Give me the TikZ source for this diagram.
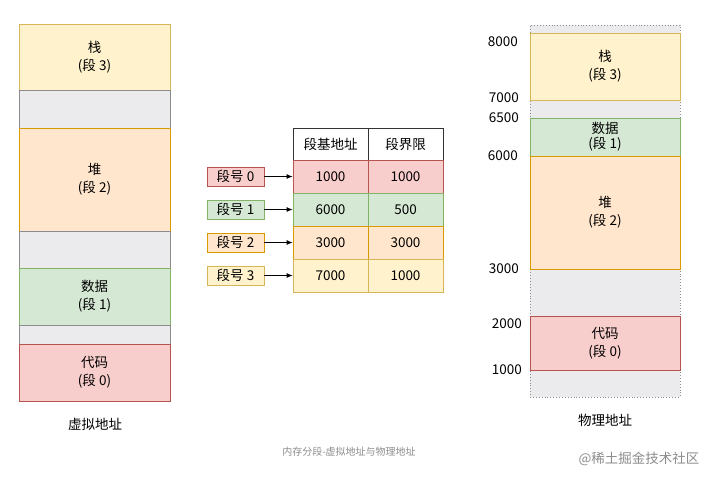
\documentclass[tikz,border=0pt]{standalone}
\usepackage{fontspec}
\setmainfont{Noto Sans CJK SC}
\usetikzlibrary{arrows.meta}

\definecolor{stackfill}{HTML}{FFF2CC}\definecolor{stackline}{HTML}{D6B656}
\definecolor{heapfill}{HTML}{FFE6CC}\definecolor{heapline}{HTML}{D79B00}
\definecolor{datafill}{HTML}{D5E8D4}\definecolor{dataline}{HTML}{82B366}
\definecolor{codefill}{HTML}{F8CECC}\definecolor{codeline}{HTML}{B85450}
\definecolor{gapfill}{HTML}{EBEBEE}\definecolor{gapline}{HTML}{8C8C8C}

\tikzset{
  seg/.style={draw, line width=0.8pt, minimum width=151pt, inner sep=0pt,
    align=center, font=\fontsize{13.5}{18}\selectfont},
  stackseg/.style={seg, fill=stackfill, draw=stackline},
  heapseg/.style={seg, fill=heapfill, draw=heapline},
  dataseg/.style={seg, fill=datafill, draw=dataline},
  codeseg/.style={seg, fill=codefill, draw=codeline},
  gapseg/.style={seg, fill=gapfill, draw=gapline},
  cell/.style={draw, line width=0.8pt, minimum width=75pt, minimum height=33pt,
    inner sep=0pt, font=\fontsize{13.5}{16}\selectfont},
  numlabel/.style={draw, line width=0.8pt, minimum width=57pt, minimum height=19pt,
    inner sep=0pt, font=\fontsize{13.5}{16}\selectfont},
  addr/.style={anchor=east, inner sep=0pt, font=\fontsize{13.5}{16}\selectfont},
  arr/.style={-{Latex[length=6pt,width=5pt]}, line width=0.8pt}
}

\begin{document}
\begin{tikzpicture}[x=1pt,y=-1pt]
\useasboundingbox (0,0) rectangle (723,483);
% Virtual address space
\node[stackseg, minimum height=66pt] (vstack) at (94.5,57) {栈\\(段 3)};
\node[gapseg, minimum height=38pt] (vgapa) at (94.5,109) {};
\node[heapseg, minimum height=103pt] (vheap) at (94.5,179.5) {堆\\(段 2)};
\node[gapseg, minimum height=37pt] (vgapb) at (94.5,249.5) {};
\node[dataseg, minimum height=57pt] (vdata) at (94.5,296.5) {数据\\(段 1)};
\node[gapseg, minimum height=19pt] (vgapc) at (94.5,334.5) {};
\node[codeseg, minimum height=57pt] (vcode) at (94.5,372.5) {代码\\(段 0)};
\node[font=\fontsize{13.5}{16}\selectfont] (vlabel) at (95,424) {虚拟地址};
% Segment table
\node[cell, fill=white, draw=black!80, minimum height=32pt] (hbase) at (330.5,144) {段基地址};
\node[cell, fill=white, draw=black!80, minimum height=32pt] (hlimit) at (405.5,144) {段界限};
\foreach \y/\base/\lim/\kind/\n in {176.5/1000/1000/code/0, 209.5/6000/500/data/1,
                                   242.5/3000/3000/heap/2, 275.5/7000/1000/stack/3} {
  \node[cell, fill=\kind fill, draw=\kind line] (base\n) at (330.5,\y) {\base};
  \node[cell, fill=\kind fill, draw=\kind line] (limit\n) at (405.5,\y) {\lim};
  \node[numlabel, fill=\kind fill, draw=\kind line] (segno\n) at (235.5,\y) {段号 \n};
  \draw[arr] (segno\n) -- (base\n);
}
% Physical address space
\node[draw=gapline, fill=gapfill, line width=0.9pt, dotted, minimum width=150pt,
  minimum height=372pt, inner sep=0pt] (pmem) at (605,211) {};
\node[stackseg, minimum width=150pt, minimum height=67pt] (pstack) at (605,66.5) {栈\\(段 3)};
\node[dataseg, minimum width=150pt, minimum height=38pt,
  font=\fontsize{13.5}{15}\selectfont] (pdata) at (605,137) {数据\\(段 1)};
\node[heapseg, minimum width=150pt, minimum height=113pt] (pheap) at (605,212.5) {堆\\(段 2)};
\node[codeseg, minimum width=150pt, minimum height=54pt] (pcode) at (605,343) {代码\\(段 0)};
\node[font=\fontsize{13.5}{16}\selectfont] (plabel) at (605,420) {物理地址};
% Addresses
\node[addr] (a8000) at (518,42) {8000};
\node[addr] (a7000) at (519,98) {7000};
\node[addr] (a6500) at (519,118) {6500};
\node[addr] (a6000) at (518,156) {6000};
\node[addr] (a3000) at (519,269) {3000};
\node[addr] (a2000) at (522,324) {2000};
\node[addr] (a1000) at (522,370) {1000};
% Caption and watermark
\node[text=black!45, font=\fontsize{10}{12}\selectfont] (caption) at (349,452) {内存分段-虚拟地址与物理地址};
\node[text=black!45, font=\fontsize{13.5}{16}\selectfont] (mark) at (639,459) {@稀土掘金技术社区};
\end{tikzpicture}
\end{document}
